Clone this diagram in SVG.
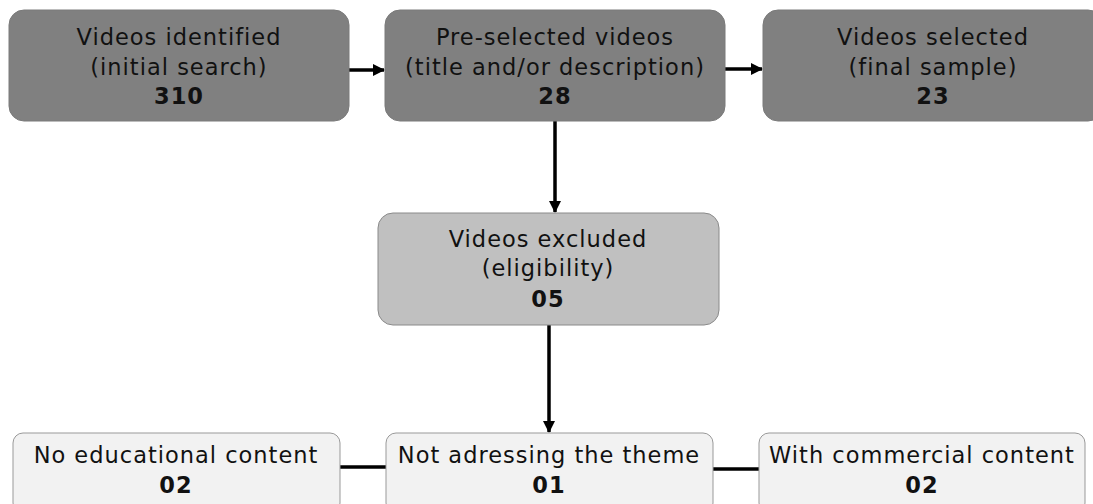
<svg xmlns="http://www.w3.org/2000/svg" width="1093" height="504" viewBox="0 0 1093 504">
<defs>
<style>
.t{font-family:"DejaVu Sans",Verdana,sans-serif;font-size:22.5px;letter-spacing:1px;fill:#111;text-anchor:middle}
.b{font-weight:bold}
.dark{fill:#808080;stroke:#7a7a7a;stroke-width:1}
.mid{fill:#c0c0c0;stroke:#8a8a8a;stroke-width:1}
.light{fill:#f2f2f2;stroke:#999;stroke-width:1}
.c{stroke:#000;stroke-width:3.5;fill:none}
</style>
<marker id="ah" markerWidth="12" markerHeight="12" refX="11" refY="6" orient="auto" markerUnits="userSpaceOnUse">
<path d="M0,0 L12,6 L0,12 Z" fill="#000"/>
</marker>
</defs>
<rect width="1093" height="504" fill="#fff"/>
<g id="connectors">
<line class="c" x1="349" y1="70" x2="384" y2="70" marker-end="url(#ah)"/>
<line class="c" x1="725" y1="69" x2="762" y2="69" marker-end="url(#ah)"/>
<line class="c" x1="555" y1="121" x2="555" y2="212" marker-end="url(#ah)"/>
<line class="c" x1="549" y1="325" x2="549" y2="432" marker-end="url(#ah)"/>
<line class="c" x1="340" y1="467" x2="386" y2="467"/>
<line class="c" x1="713" y1="469" x2="759" y2="469"/>
</g>
<g id="n1">
<rect class="dark" x="9" y="10" width="340" height="111" rx="15"/>
<text class="t" x="179" y="45">Videos identified</text>
<text class="t" x="179" y="75">(initial search)</text>
<text class="t b" x="179" y="104">310</text>
</g>
<g id="n2">
<rect class="dark" x="385" y="10" width="340" height="111" rx="15"/>
<text class="t" x="555" y="45">Pre-selected videos</text>
<text class="t" x="555" y="75">(title and/or description)</text>
<text class="t b" x="555" y="104">28</text>
</g>
<g id="n3">
<rect class="dark" x="763" y="10" width="340" height="111" rx="15"/>
<text class="t" x="933" y="45">Videos selected</text>
<text class="t" x="933" y="75">(final sample)</text>
<text class="t b" x="933" y="104">23</text>
</g>
<g id="n4">
<rect class="mid" x="378" y="213" width="341" height="112" rx="15"/>
<text class="t" x="548" y="247">Videos excluded</text>
<text class="t" x="548" y="276">(eligibility)</text>
<text class="t b" x="548" y="307">05</text>
</g>
<g id="n5">
<rect class="light" x="13" y="433" width="327" height="80" rx="10"/>
<text class="t" x="176" y="463">No educational content</text>
<text class="t b" x="176" y="493">02</text>
</g>
<g id="n6">
<rect class="light" x="386" y="433" width="327" height="80" rx="10"/>
<text class="t" x="549" y="463">Not adressing the theme</text>
<text class="t b" x="549" y="493">01</text>
</g>
<g id="n7">
<rect class="light" x="759" y="433" width="326" height="80" rx="10"/>
<text class="t" x="922" y="463">With commercial content</text>
<text class="t b" x="922" y="493">02</text>
</g>
</svg>
